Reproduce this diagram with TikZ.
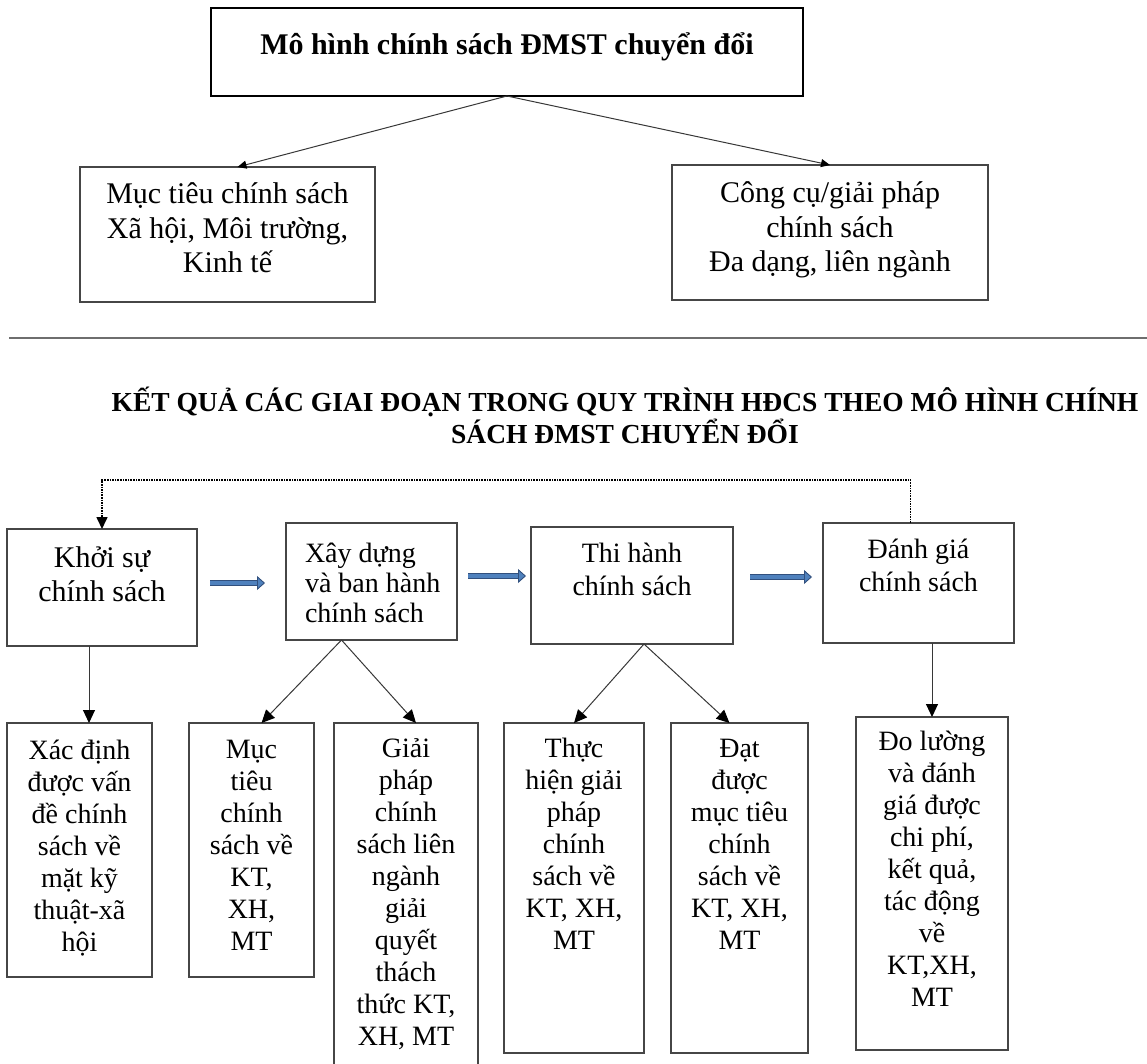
\documentclass[tikz,border=0pt]{standalone}
\usepackage{fontspec}
\setmainfont{Liberation Serif}
\usepackage{xcolor}
\definecolor{boxgray}{RGB}{70,70,70}
\definecolor{arrowgray}{RGB}{55,55,55}
\definecolor{rulegray}{RGB}{110,110,110}
\definecolor{flowblue}{RGB}{79,129,189}
\definecolor{flowedge}{RGB}{50,80,125}
\usepackage{tikz}
\usetikzlibrary{arrows.meta}
\newcommand{\boxtext}[4][35pt]{\parbox[t][#3][t]{#2}{\centering\rule{0pt}{#1}#4}}
\tikzset{
    common/.style={anchor=north west, inner sep=0pt, outer sep=0pt},
    frame/.style={common, draw=boxgray, line width=1.2pt},
    headframe/.style={common, draw=black, line width=1.6pt},
    txt-big/.style={font=\fontsize{30}{34.5}\selectfont},
    txt-mid/.style={font=\fontsize{28}{33}\selectfont},
    txt-small/.style={font=\fontsize{28}{32}\selectfont},
    link/.style={draw=arrowgray, line width=1pt, -{Triangle[length=13pt, width=12pt, color=black]}},
    toplink/.style={draw=arrowgray, line width=1pt, -{Triangle[length=9pt, width=8pt, color=black]}},
    feedback/.style={draw=black, line width=1.6pt, densely dotted, -{Triangle[length=12pt, width=11pt]}},
    flow/.style={draw=flowedge, line width=0.9pt, double=flowblue, double distance=4.5pt, -{Triangle[length=8pt, width=14pt, fill=flowblue]}}
}

\begin{document}
\begin{tikzpicture}[x=1pt, y=-1pt]
  \useasboundingbox (0,0) rectangle (1147,1064);

  \node[headframe, font=\fontsize{30}{34}\selectfont\bfseries] (model) at (211,8) {\boxtext[47pt]{592pt}{88pt}{Mô hình chính sách ĐMST chuyển đổi}};
  \node[frame, txt-big] (goal-box) at (80,167) {\boxtext[37pt]{295pt}{135pt}{Mục tiêu chính sách\\ Xã hội, Môi trường,\\ Kinh tế}};
  \node[frame, txt-big] (tool-box) at (672,165) {\boxtext[38pt]{316pt}{135pt}{Công cụ/giải pháp\\ chính sách\\ Đa dạng, liên ngành}};

  \draw[toplink] (model.south) -- ([xshift=10pt]goal-box.north);
  \draw[toplink] (model.south) -- (tool-box.north);

  \draw[rulegray, line width=2.5pt] (9,338) -- (1147,338);

  \node[anchor=north, inner sep=0pt, font=\fontsize{27.5}{32}\selectfont\bfseries] (result-title) at (625,374) {\boxtext[37pt]{1080pt}{70pt}{KẾT QUẢ CÁC GIAI ĐOẠN TRONG QUY TRÌNH HĐCS THEO MÔ HÌNH CHÍNH\\ SÁCH ĐMST CHUYỂN ĐỔI}};

  \node[frame, font=\fontsize{30}{34}\selectfont] (stage-start) at (7,529) {\boxtext[38pt]{190pt}{117pt}{Khởi sự\\ chính sách}};
  \node[frame, font=\fontsize{28}{30}\selectfont] (stage-build) at (286,523) {\boxtext[39pt]{171pt}{117pt}{\raggedright\leftskip=19pt Xây dựng\\ và ban hành\\ chính sách}};
  \node[frame, txt-mid] (stage-run) at (531,527) {\boxtext{202pt}{117pt}{Thi hành\\ chính sách}};
  \node[frame, txt-mid] (stage-eval) at (823,523) {\boxtext{191pt}{120pt}{Đánh giá\\ chính sách}};

  \draw[flow, transform canvas={yshift=4.5pt}, shorten <=13pt, shorten >=21pt] (stage-start.east) -- (stage-start.east -| stage-build.west);
  \draw[flow, transform canvas={yshift=5.5pt}, shorten <=11pt, shorten >=5pt] (stage-build.east) -- (stage-build.east -| stage-run.west);
  \draw[flow, transform canvas={yshift=8.5pt}, shorten <=17pt, shorten >=11pt] (stage-run.east) -- (stage-run.east -| stage-eval.west);

  \draw[feedback] ([xshift=-8pt]stage-eval.north) -- ++(0,-43) -| (stage-start.north);

  \node[frame, txt-small] (out-problem) at (7,723) {\boxtext[36pt]{145pt}{254pt}{Xác định\\ được vấn\\ đề chính\\ sách về\\ mặt kỹ\\ thuật-xã\\ hội}};
  \node[frame, txt-small] (out-goal) at (189,723) {\boxtext{125pt}{254pt}{Mục\\ tiêu\\ chính\\ sách về\\ KT,\\ XH,\\ MT}};
  \node[frame, txt-small] (out-solution) at (334,723) {\boxtext[34pt]{144pt}{360pt}{Giải\\ pháp\\ chính\\ sách liên\\ ngành\\ giải\\ quyết\\ thách\\ thức KT,\\ XH, MT}};
  \node[frame, txt-small] (out-implement) at (504,723) {\boxtext[34pt]{140pt}{330pt}{Thực\\ hiện giải\\ pháp\\ chính\\ sách về\\ KT, XH,\\ MT}};
  \node[frame, txt-small] (out-achieve) at (671,723) {\boxtext[34pt]{137pt}{330pt}{Đạt\\ được\\ mục tiêu\\ chính\\ sách về\\ KT, XH,\\ MT}};
  \node[frame, txt-small] (out-measure) at (856,717) {\boxtext[33pt]{152pt}{333pt}{Đo lường\\ và đánh\\ giá được\\ chi phí,\\ kết quả,\\ tác động\\ về\\ KT,XH,\\ MT}};

  \draw[link] ([xshift=-13pt]stage-start.south) -- ([xshift=-13pt]stage-start.south |- out-problem.north);
  \draw[link] ([xshift=-30pt]stage-build.south) -- ([xshift=10pt]out-goal.north);
  \draw[link] ([xshift=-30pt]stage-build.south) -- ([xshift=10pt]out-solution.north);
  \draw[link] ([xshift=12pt]stage-run.south) -- (out-implement.north);
  \draw[link] ([xshift=12pt]stage-run.south) -- ([xshift=-10pt]out-achieve.north);
  \draw[link] (out-measure.north |- stage-eval.south) -- (out-measure.north);
\end{tikzpicture}
\end{document}
